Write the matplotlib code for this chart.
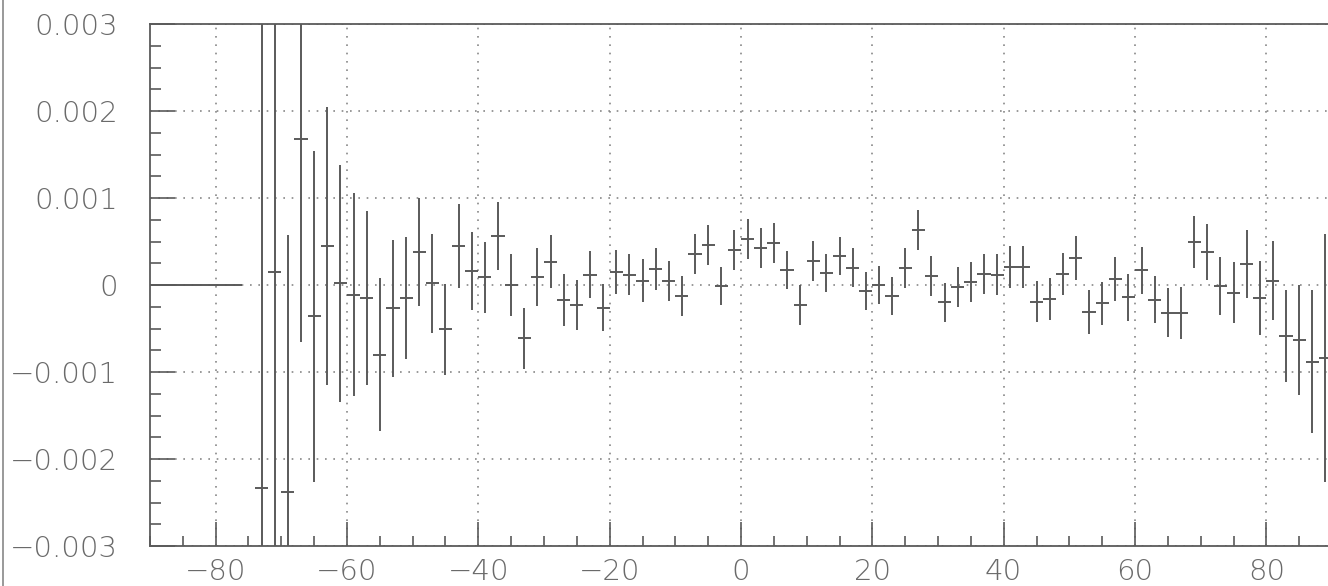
import numpy as np
import matplotlib.pyplot as plt
from matplotlib.lines import Line2D
from matplotlib.ticker import MultipleLocator, FuncFormatter


# empty bins on the left (drawn as a flat line at zero)
empty_centers = np.arange(-89, -76, 2)
empty_values = [0.0] * len(empty_centers)

# filled bins, width 2, centres from -73 to 89 (values in units of 1e-3)
centers = np.arange(-73, 90, 2)
values = [
    -2.33, 0.15, -2.38, 1.68, -0.36, 0.45, 0.02, -0.11, -0.15, -0.80,
    -0.27, -0.15, 0.38, 0.02, -0.51, 0.45, 0.16, 0.09, 0.56,
    0.00, -0.61, 0.09, 0.27, -0.17, -0.23, 0.12, -0.26, 0.15, 0.12,
    0.05, 0.18, 0.05, -0.13, 0.36, 0.46, -0.01, 0.40,
    0.53, 0.43, 0.48, 0.17, -0.23, 0.28, 0.14, 0.33, 0.20, -0.07,
    0.00, -0.13, 0.20, 0.63, 0.10, -0.20, -0.02, 0.03, 0.13, 0.12,
    0.21, 0.21, -0.19, -0.16, 0.13, 0.31, -0.31, -0.21, 0.07, -0.14,
    0.17, -0.17, -0.32, -0.32, 0.49, 0.38, -0.01, -0.09, 0.24, -0.15,
    0.05, -0.59, -0.63, -0.88, -0.84,
]
errors = [
    5.60, 3.60, 2.95, 2.33, 1.90, 1.60, 1.36, 1.17, 1.00, 0.88,
    0.79, 0.70, 0.62, 0.57, 0.52, 0.48, 0.445, 0.41, 0.39,
    0.36, 0.35, 0.33, 0.31, 0.30, 0.29, 0.27, 0.27, 0.25, 0.24,
    0.25, 0.24, 0.23, 0.23, 0.23, 0.23, 0.22, 0.23,
    0.23, 0.23, 0.23, 0.22, 0.23, 0.23, 0.22, 0.22, 0.22, 0.22,
    0.22, 0.22, 0.23, 0.23, 0.23, 0.22, 0.23, 0.23, 0.23, 0.24,
    0.24, 0.24, 0.24, 0.245, 0.24, 0.25, 0.25, 0.25, 0.25, 0.27,
    0.27, 0.27, 0.28, 0.30, 0.30, 0.32, 0.33, 0.35, 0.39, 0.43,
    0.455, 0.53, 0.63, 0.82, 1.43,
]
scale = 1e-3

line_col = '#5a5a5a'
text_col = '#6a6a6a'

plt.rcParams['font.family'] = ['DejaVu Sans']
fig = plt.figure(figsize=(13.28, 5.86), dpi=100)
W, H = 1328, 586
ax = fig.add_axes([150 / W, 40 / H, (1332 - 150) / W, (546 - 24) / H])

ax.errorbar(empty_centers, np.array(empty_values) * scale, xerr=1,
            fmt='none', ecolor=line_col, elinewidth=1.4, capsize=0)
ax.errorbar(centers, np.array(values) * scale, xerr=1,
            yerr=np.array(errors) * scale, fmt='none', ecolor=line_col,
            elinewidth=1.4, capsize=0)

ax.set_xlim(-90, 90)
ax.set_ylim(-0.003, 0.003)
ax.xaxis.set_major_locator(MultipleLocator(20))
ax.xaxis.set_minor_locator(MultipleLocator(5))
ax.yaxis.set_major_locator(MultipleLocator(0.001))
ax.yaxis.set_minor_locator(MultipleLocator(0.00025))


def yfmt(v, pos):
    if abs(v) < 1e-9:
        return '0'
    return f'{v:.3f}'.replace('-', '\u2212')


ax.yaxis.set_major_formatter(FuncFormatter(yfmt))
ax.grid(True, which='major', color='#888888', linestyle=(0, (1, 4)), linewidth=1.2)

ax.tick_params(which='both', direction='in', color=line_col, width=1.2,
               top=False, right=False, labelcolor=text_col, labelsize=21)
ax.tick_params(axis='y', which='major', length=18, pad=23)
ax.tick_params(axis='y', which='minor', length=8)
ax.tick_params(axis='x', which='major', length=17, pad=9)
ax.tick_params(axis='x', which='minor', length=7.5)
for lab in ax.get_xticklabels() + ax.get_yticklabels():
    lab.set_fontweight('light')
for s in ax.spines.values():
    s.set_color(line_col)
    s.set_linewidth(1.3)

# thin frame line at the left edge of the picture
fig.add_artist(Line2D([3 / W, 3 / W], [0, 1], color='#888888', linewidth=1.2))

fig.savefig('out.png', dpi=100)
